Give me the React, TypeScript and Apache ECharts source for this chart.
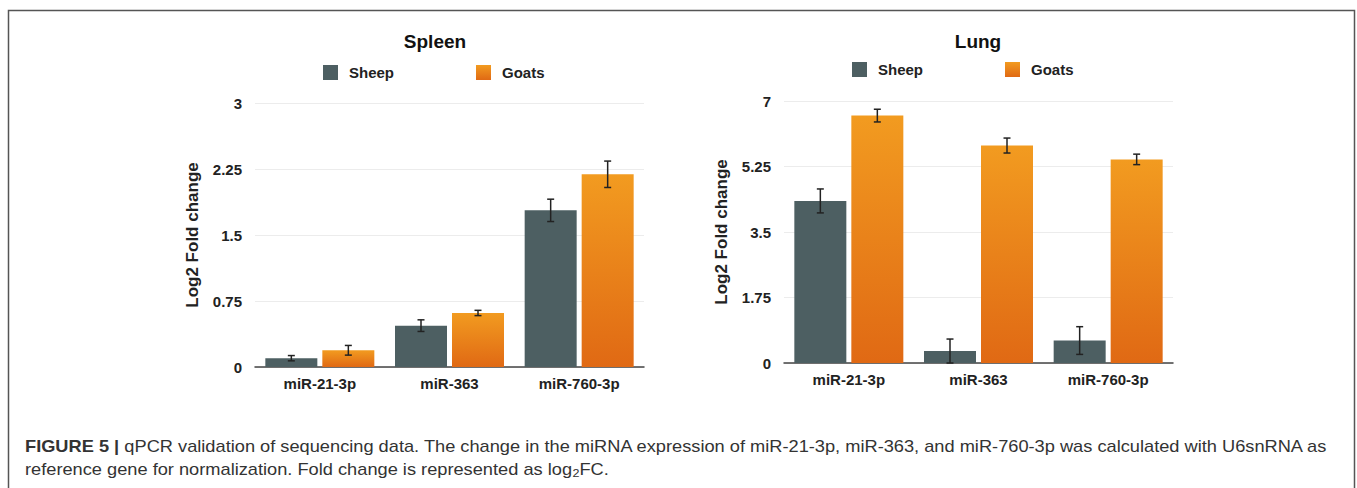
import React, { useEffect, useRef } from "react";
import * as echarts from "echarts";

const categories = ["miR-21-3p", "miR-363", "miR-760-3p"];
const seriesNames = ["Sheep", "Goats"];

const spleenSheep = [0.1, 0.47, 1.78];
const spleenSheepErr = [0.03, 0.066, 0.127];
const spleenGoats = [0.19, 0.614, 2.19];
const spleenGoatsErr = [0.055, 0.03, 0.15];

const lungSheep = [4.33, 0.32, 0.6];
const lungSheepErr = [0.32, 0.32, 0.37];
const lungGoats = [6.61, 5.81, 5.44];
const lungGoatsErr = [0.17, 0.2, 0.14];

const spleenTicks = { max: 3, interval: 0.75 };
const lungTicks = { max: 7, interval: 1.75 };

const panelTitles = ["Spleen", "Lung"];
const yAxisName = "Log2 Fold change";
const captionLine1Bold = "FIGURE 5 |";
const captionLine1 =
  " qPCR validation of sequencing data. The change in the miRNA expression of miR-21-3p, miR-363, and miR-760-3p was calculated with U6snRNA as";
const captionLine2a = "reference gene for normalization. Fold change is represented as log";
const captionLine2sub = "2";
const captionLine2b = "FC.";

const FONT = "'Liberation Sans', Arial, Helvetica, sans-serif";
const SHEEP_COLOR = "#4D5F62";
const goatGradient = () =>
  new echarts.graphic.LinearGradient(0, 0, 0, 1, [
    { offset: 0, color: "#F29B20" },
    { offset: 1, color: "#E06914" },
  ]);

const BAR_WIDTH = 52;
const BAR_GAP_PX = 5;

function errorSeries(
  name: string,
  values: number[],
  errs: number[],
  side: number,
  idx: number
) {
  return {
    type: "custom",
    name: name + " error",
    xAxisIndex: idx,
    yAxisIndex: idx,
    silent: true,
    z: 10,
    data: values.map((v, i) => [i, v - errs[i], v + errs[i]]),
    renderItem: (params: any, api: any) => {
      const ci = api.value(0);
      const lo = api.coord([ci, api.value(1)]);
      const hi = api.coord([ci, api.value(2)]);
      const x = lo[0] + side * (BAR_WIDTH + BAR_GAP_PX) / 2;
      const cap = 3.5;
      const style = { stroke: "#222", lineWidth: 1.5 };
      return {
        type: "group",
        children: [
          { type: "line", shape: { x1: x, y1: lo[1], x2: x, y2: hi[1] }, style },
          { type: "line", shape: { x1: x - cap, y1: lo[1], x2: x + cap, y2: lo[1] }, style },
          { type: "line", shape: { x1: x - cap, y1: hi[1], x2: x + cap, y2: hi[1] }, style },
        ],
      };
    },
  };
}

const legendBase = {
  data: seriesNames,
  itemWidth: 15,
  itemHeight: 15,
  itemGap: 82,
  icon: "rect",
  textStyle: {
    fontFamily: FONT,
    fontSize: 15,
    fontWeight: "bold",
    color: "#222",
    padding: [0, 0, 0, 6],
  },
};

export default function App() {
  const ref = useRef<HTMLDivElement>(null);

  useEffect(() => {
    document.body.style.margin = "0";
    if (!ref.current) return;
    const chart = echarts.init(ref.current, undefined, { renderer: "svg" });

    const grids = [
      { left: 255, top: 103, width: 389, height: 264 },
      { left: 784, top: 101, width: 389, height: 262 },
    ];
    const ticks = [spleenTicks, lungTicks];

    const option: any = {
      animation: false,
      backgroundColor: "#ffffff",
      textStyle: { fontFamily: FONT },
      grid: grids,
      legend: [
        { ...legendBase, left: 318, top: 60 },
        { ...legendBase, left: 847, top: 57 },
      ],
      xAxis: [0, 1].map((i) => ({
        type: "category",
        gridIndex: i,
        data: categories,
        axisTick: { show: false },
        axisLine: { lineStyle: { color: "#444", width: 1.5 } },
        axisLabel: {
          fontFamily: FONT,
          fontSize: 15,
          fontWeight: "bold",
          color: "#222",
          margin: 9,
        },
      })),
      yAxis: [0, 1].map((i) => ({
        type: "value",
        gridIndex: i,
        min: 0,
        max: ticks[i].max,
        interval: ticks[i].interval,
        name: yAxisName,
        nameLocation: "middle",
        nameGap: 54,
        nameTextStyle: { fontFamily: FONT, fontSize: 17, fontWeight: "bold", color: "#222" },
        axisLine: { show: false },
        axisTick: { show: false },
        splitLine: { lineStyle: { color: "#ECECEC", width: 1 } },
        axisLabel: {
          fontFamily: FONT,
          fontSize: 15,
          fontWeight: "bold",
          color: "#222",
          margin: 13,
        },
      })),
      series: [
        {
          type: "bar",
          name: "Sheep",
          xAxisIndex: 0,
          yAxisIndex: 0,
          data: spleenSheep,
          barWidth: BAR_WIDTH,
          barGap: (BAR_GAP_PX / BAR_WIDTH) * 100 + "%",
          itemStyle: { color: SHEEP_COLOR },
        },
        {
          type: "bar",
          name: "Goats",
          xAxisIndex: 0,
          yAxisIndex: 0,
          data: spleenGoats,
          barWidth: BAR_WIDTH,
          barGap: (BAR_GAP_PX / BAR_WIDTH) * 100 + "%",
          itemStyle: { color: goatGradient() },
        },
        {
          type: "bar",
          name: "Sheep",
          xAxisIndex: 1,
          yAxisIndex: 1,
          data: lungSheep,
          barWidth: BAR_WIDTH,
          barGap: (BAR_GAP_PX / BAR_WIDTH) * 100 + "%",
          itemStyle: { color: SHEEP_COLOR },
        },
        {
          type: "bar",
          name: "Goats",
          xAxisIndex: 1,
          yAxisIndex: 1,
          data: lungGoats,
          barWidth: BAR_WIDTH,
          barGap: (BAR_GAP_PX / BAR_WIDTH) * 100 + "%",
          itemStyle: { color: goatGradient() },
        },
        errorSeries("Sheep", spleenSheep, spleenSheepErr, -1, 0),
        errorSeries("Goats", spleenGoats, spleenGoatsErr, 1, 0),
        errorSeries("Sheep", lungSheep, lungSheepErr, -1, 1),
        errorSeries("Goats", lungGoats, lungGoatsErr, 1, 1),
      ],
      graphic: [
        {
          type: "rect",
          shape: { x: 8.5, y: 10.5, width: 1346, height: 520 },
          style: { fill: "none", stroke: "#555", lineWidth: 1.5 },
          silent: true,
        },
        {
          type: "text",
          x: 435,
          y: 41,
          style: {
            text: panelTitles[0],
            font: `bold 19px ${FONT}`,
            fill: "#111",
            textAlign: "center",
            textVerticalAlign: "middle",
          },
        },
        {
          type: "text",
          x: 978,
          y: 41,
          style: {
            text: panelTitles[1],
            font: `bold 19px ${FONT}`,
            fill: "#111",
            textAlign: "center",
            textVerticalAlign: "middle",
          },
        },
        {
          type: "text",
          x: 25,
          y: 446,
          scaleX: 1.14,
          style: {
            text: `{b|${captionLine1Bold}}{r|${captionLine1}}`,
            textVerticalAlign: "middle",
            rich: {
              b: { font: `bold 16px ${FONT}`, fill: "#333" },
              r: { font: `16px ${FONT}`, fill: "#333" },
            },
          },
        },
        {
          type: "text",
          x: 25,
          y: 469,
          scaleX: 1.14,
          style: {
            text: `{r|${captionLine2a}}{s|${captionLine2sub}}{r|${captionLine2b}}`,
            textVerticalAlign: "middle",
            rich: {
              r: { font: `16px ${FONT}`, fill: "#333", lineHeight: 18 },
              s: { font: `11px ${FONT}`, fill: "#333", lineHeight: 18, verticalAlign: "bottom", padding: [8, 0, 0, 0] },
            },
          },
        },
      ],
    };

    chart.setOption(option);
    return () => chart.dispose();
  }, []);

  return <div ref={ref} style={{ width: 1357, height: 488 }} />;
}
